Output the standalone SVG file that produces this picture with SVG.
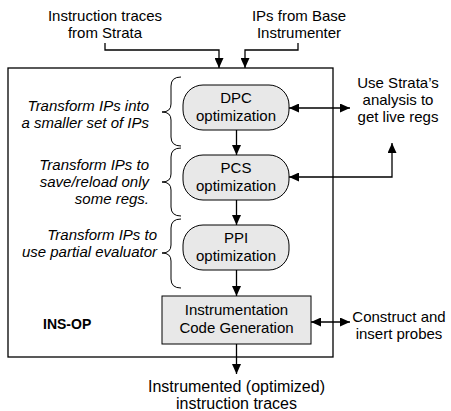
<svg xmlns="http://www.w3.org/2000/svg" width="451" height="411" viewBox="0 0 451 411">
<style>
text{font-family:"Liberation Sans",Arial,sans-serif;font-size:15px;fill:#000}
.c{text-anchor:middle}
.r{text-anchor:end;font-style:italic}
.b{font-weight:bold;font-size:14px}
.big{font-size:16px}
.box{fill:#e8e8e8;stroke:#000;stroke-width:1}
.ln{fill:none;stroke:#000;stroke-width:1.3}
.br{fill:none;stroke:#000;stroke-width:1}
</style>
<defs>
<marker id="ah" viewBox="0 0 10 9" refX="10" refY="4.5" markerWidth="10" markerHeight="9" markerUnits="userSpaceOnUse" orient="auto-start-reverse">
<path d="M0,0 L10,4.5 L0,9 z" fill="#000"/>
</marker>
</defs>
<rect id="insop-box" x="8" y="68" width="325" height="289" fill="#fff" stroke="#000" stroke-width="1.3"/>
<g id="labels-top">
<text class="c" x="105" y="21">Instruction traces</text>
<text class="c" x="105" y="38">from Strata</text>
<text class="c" x="299" y="21">IPs from Base</text>
<text class="c" x="299" y="38">Instrumenter</text>
</g>
<g id="dpc">
<rect class="box" x="183" y="85" width="106" height="45" rx="20"/>
<text class="c" x="236" y="103">DPC</text>
<text class="c" x="236" y="121">optimization</text>
</g>
<g id="pcs">
<rect class="box" x="183" y="155" width="106" height="45" rx="20"/>
<text class="c" x="236" y="173">PCS</text>
<text class="c" x="236" y="191">optimization</text>
</g>
<g id="ppi">
<rect class="box" x="183" y="225" width="106" height="45" rx="20"/>
<text class="c" x="236" y="243">PPI</text>
<text class="c" x="236" y="261">optimization</text>
</g>
<g id="codegen">
<rect class="box" x="162" y="296" width="149" height="48"/>
<text class="c" x="236.5" y="315">Instrumentation</text>
<text class="c" x="236.5" y="333">Code Generation</text>
</g>
<g id="insop-label">
<text class="b" x="43" y="329">INS-OP</text>
</g>
<g id="notes-left">
<text class="r" x="149" y="111">Transform IPs into</text>
<text class="r" x="149" y="128">a smaller set of IPs</text>
<text class="r" x="149" y="170">Transform IPs to</text>
<text class="r" x="149" y="187">save/reload only</text>
<text class="r" x="149" y="204">some regs.</text>
<text class="r" x="157" y="240">Transform IPs to</text>
<text class="r" x="157" y="257">use partial evaluator</text>
</g>
<g id="braces">
<path class="br" d="M181,77 Q171,77 171,86 L171,104 Q171,112 162,112 Q171,112 171,120 L171,137 Q171,146 181,146"/>
<path class="br" d="M181,148 Q171,148 171,157 L171,174 Q171,182 162,182 Q171,182 171,190 L171,207 Q171,216 181,216"/>
<path class="br" d="M181,219 Q171,219 171,228 L171,245 Q171,253 162,253 Q171,253 171,261 L171,279 Q171,288 181,288"/>
</g>
<g id="notes-right">
<text class="c" x="398" y="88">Use Strata’s</text>
<text class="c" x="398" y="105">analysis to</text>
<text class="c" x="398" y="122">get live regs</text>
<text class="c" x="399" y="322">Construct and</text>
<text class="c" x="399" y="339">insert probes</text>
</g>
<g id="labels-bottom">
<text class="c big" x="236.5" y="392">Instrumented (optimized)</text>
<text class="c big" x="236.5" y="409">instruction traces</text>
</g>
<g id="connectors">
<polyline class="ln" points="105,43 105,50 219,50 219,68" marker-end="url(#ah)"/>
<polyline class="ln" points="298,43 298,50 245,50 245,68" marker-end="url(#ah)"/>
<line class="ln" x1="236.5" y1="130" x2="236.5" y2="155" marker-end="url(#ah)"/>
<line class="ln" x1="236.5" y1="200" x2="236.5" y2="225" marker-end="url(#ah)"/>
<line class="ln" x1="236.5" y1="270" x2="236.5" y2="296" marker-end="url(#ah)"/>
<line class="ln" x1="236.5" y1="344" x2="236.5" y2="374" marker-end="url(#ah)"/>
<line class="ln" x1="289" y1="108" x2="350" y2="108" marker-start="url(#ah)" marker-end="url(#ah)"/>
<polyline class="ln" points="289,177 392,177 392,143" marker-start="url(#ah)" marker-end="url(#ah)"/>
<line class="ln" x1="311" y1="322" x2="350" y2="322" marker-start="url(#ah)" marker-end="url(#ah)"/>
</g>
</svg>
